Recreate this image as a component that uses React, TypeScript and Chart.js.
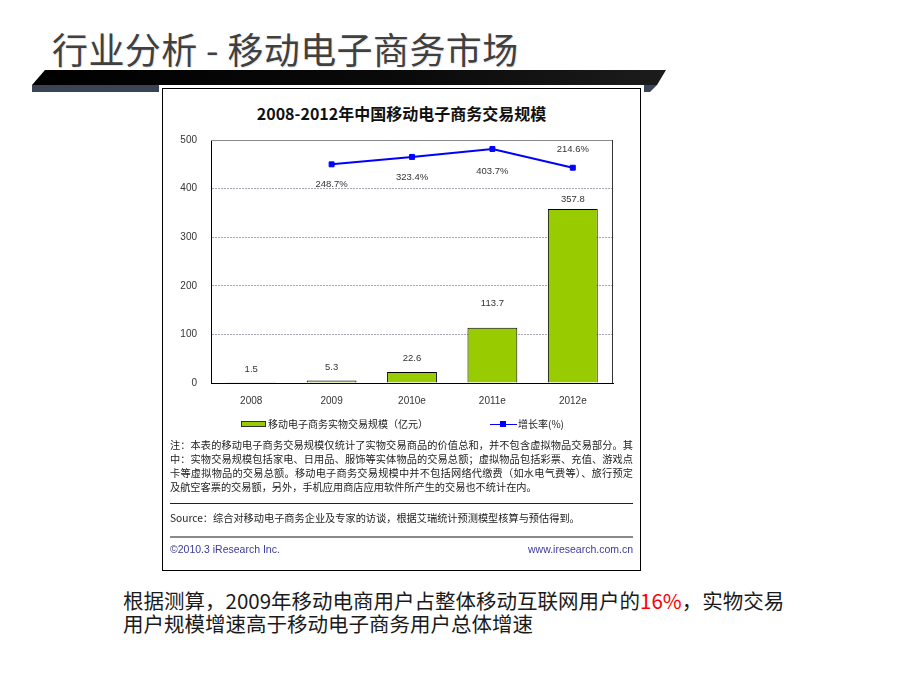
import React, { useEffect, useRef } from "react";
import { Chart, registerables } from "chart.js";
Chart.register(...registerables);

const categories = ["2008", "2009", "2010e", "2011e", "2012e"];
const tradeVolume = [1.5, 5.3, 22.6, 113.7, 357.8];
const growthRate: (number | null)[] = [null, 248.7, 323.4, 403.7, 214.6];
const yMin = 0;
const yMax = 500;
const yStep = 100;
const rateAxisMin = -1956;
const rateAxisMax = 494;
const barLabelOffsets = [13, 13, 14, 24, 10];
const lineLabelOffsets = [0, 20, 20, 22, -18];

const noteLines = [
  "注：本表的移动电子商务交易规模仅统计了实物交易商品的价值总和，并不包含虚拟物品交易部分。其",
  "中：实物交易规模包括家电、日用品、服饰等实体物品的交易总额；虚拟物品包括彩票、充值、游戏点",
  "卡等虚拟物品的交易总额。移动电子商务交易规模中并不包括网络代缴费（如水电气费等）、旅行预定",
  "及航空客票的交易额，另外，手机应用商店应用软件所产生的交易也不统计在内。",
];

const CHART_FONT = "'Liberation Sans', 'DejaVu Sans', sans-serif";
const CJK = "'Noto Sans CJK SC', 'Noto Sans', sans-serif";

const labelPlugin = {
  id: "valueLabels",
  afterDatasetsDraw(chart: any) {
    const ctx = chart.ctx;
    ctx.save();
    const a = chart.chartArea;
    ctx.lineWidth = 1;
    ctx.strokeStyle = "#8a8a8a";
    ctx.beginPath();
    ctx.moveTo(a.left, a.top + 0.5);
    ctx.lineTo(a.right, a.top + 0.5);
    ctx.stroke();
    ctx.strokeStyle = "#333";
    ctx.beginPath();
    ctx.moveTo(a.right - 0.5, a.top);
    ctx.lineTo(a.right - 0.5, a.bottom);
    ctx.stroke();

    ctx.font = "9.5px " + CHART_FONT;
    ctx.fillStyle = "#333";
    ctx.textAlign = "center";
    ctx.textBaseline = "middle";
    const barMeta = chart.getDatasetMeta(0);
    barMeta.data.forEach((el: any, i: number) => {
      ctx.fillText(String(tradeVolume[i]), el.x, el.y - barLabelOffsets[i]);
    });
    const lineMeta = chart.getDatasetMeta(1);
    lineMeta.data.forEach((el: any, i: number) => {
      const v = growthRate[i];
      if (v == null) return;
      ctx.fillText(v.toFixed(1) + "%", el.x, el.y + lineLabelOffsets[i]);
    });
    ctx.restore();
  },
};

function ChartCanvas() {
  const ref = useRef<HTMLCanvasElement | null>(null);
  useEffect(() => {
    if (!ref.current) return;
    const chart = new Chart(ref.current, {
      type: "bar",
      data: {
        labels: categories,
        datasets: [
          {
            type: "bar",
            label: "移动电子商务实物交易规模（亿元）",
            data: tradeVolume,
            backgroundColor: "#99cc00",
            borderColor: "#000",
            borderWidth: 1,
            barPercentage: 0.62,
            categoryPercentage: 1,
            yAxisID: "y",
            order: 2,
          } as any,
          {
            type: "line",
            label: "增长率(%)",
            data: growthRate,
            borderColor: "#0000ff",
            backgroundColor: "#0000ff",
            borderWidth: 2,
            pointStyle: "rect",
            pointRadius: 3.5,
            pointBorderWidth: 1,
            yAxisID: "y1",
            order: 1,
          } as any,
        ],
      },
      options: {
        animation: false,
        responsive: false,
        devicePixelRatio: 1,
        layout: { padding: { left: 0, right: 27, top: 10, bottom: 0 } },
        plugins: { legend: { display: false }, tooltip: { enabled: false }, title: { display: false } },
        scales: {
          x: {
            grid: { display: false, drawTicks: false },
            border: { display: true, color: "#000", width: 1 },
            ticks: { color: "#333", font: { family: CHART_FONT, size: 10 }, padding: 12 },
            afterFit(scale: any) {
              scale.height = 37;
              scale.paddingLeft = 0;
              scale.paddingRight = 0;
            },
          },
          y: {
            min: yMin,
            max: yMax,
            ticks: { stepSize: yStep, color: "#333", font: { family: CHART_FONT, size: 10 }, padding: 14 },
            grid: {
              drawTicks: false,
              color: (c: any) => (c.tick && (c.tick.value === yMin || c.tick.value === yMax) ? "rgba(0,0,0,0)" : "#a8a4b8"),
              lineWidth: 1,
            },
            border: { display: true, color: "#000", width: 1, dash: [2, 1] },
            afterFit(scale: any) {
              scale.width = 49;
              scale.paddingTop = 0;
              scale.paddingBottom = 0;
            },
          },
          y1: {
            type: "linear",
            display: false,
            min: rateAxisMin,
            max: rateAxisMax,
          },
        },
      } as any,
      plugins: [labelPlugin],
    });
    return () => chart.destroy();
  }, []);
  return <canvas ref={ref} width={478} height={290} style={{ display: "block", width: 478, height: 290 }} />;
}

export default function App() {
  const abs = (s: React.CSSProperties): React.CSSProperties => ({ position: "absolute", ...s });
  return (
    <div style={{ position: "fixed", left: 0, top: 0, width: 920, height: 690, background: "#fff", overflow: "hidden" }}>
      <div
        style={abs({
          left: 52,
          top: 30,
          height: 36,
          lineHeight: "36px",
          fontSize: 36,
          fontFamily: CJK,
          color: "#404040",
          whiteSpace: "nowrap",
          letterSpacing: 0.4,
          textShadow: "1px 1px 1px rgba(0,0,0,0.1)",
        })}
      >
        行业分析 - 移动电子商务市场
      </div>
      <svg width={920} height={100} style={abs({ left: 0, top: 0 })}>
        <defs>
          <linearGradient id="barg" x1="0" x2="1" y1="0" y2="0">
            <stop offset="0" stopColor="#000" />
            <stop offset="0.6" stopColor="#0a0a0a" />
            <stop offset="1" stopColor="#1c1c1c" />
          </linearGradient>
        </defs>
        <polygon points="45,70 666,70 657,85 32,85" fill="url(#barg)" />
        <polygon points="32,85 657,85 650,92 32,92" fill="#3b4455" />
      </svg>
      <div
        style={abs({
          left: 162,
          top: 88,
          width: 477,
          height: 481,
          border: "1px solid #000",
          background: "#fff",
          boxShadow: "0 0 0 3px #fff",
        })}
      />
      <div
        style={abs({
          left: 162,
          top: 103,
          width: 479,
          textAlign: "center",
          fontFamily: CJK,
          fontWeight: 700,
          fontSize: 16,
          lineHeight: "20px",
          color: "#111",
          whiteSpace: "nowrap",
        })}
      >
        2008-2012年中国移动电子商务交易规模
      </div>
      <div style={abs({ left: 162, top: 130 })}>
        <ChartCanvas />
      </div>
      {/* legend */}
      <div style={abs({ left: 241, top: 421, width: 23, height: 4, background: "#99cc00", border: "1px solid #333" })} />
      <div style={abs({ left: 268, top: 417, fontFamily: CJK, fontSize: 10, lineHeight: "14px", color: "#222", whiteSpace: "nowrap" })}>
        移动电子商务实物交易规模（亿元）
      </div>
      <div style={abs({ left: 490, top: 423.5, width: 27, height: 1, background: "#0000ff" })} />
      <div style={abs({ left: 500, top: 421, width: 6, height: 6, background: "#0000ff" })} />
      <div style={abs({ left: 518, top: 417, fontFamily: CJK, fontSize: 10, lineHeight: "14px", color: "#222", whiteSpace: "nowrap" })}>
        增长率(%)
      </div>
      {/* notes */}
      {noteLines.map((t, i) => (
        <div
          key={i}
          style={abs({
            left: 170,
            top: 438 + i * 14,
            width: 463,
            fontFamily: CJK,
            fontSize: 10.2,
            lineHeight: "14px",
            color: "#222",
            whiteSpace: "nowrap",
            textAlign: i < noteLines.length - 1 ? "justify" : "left",
            textAlignLast: i < noteLines.length - 1 ? "justify" : "left",
          } as React.CSSProperties)}
        >
          {t}
        </div>
      ))}
      <div style={abs({ left: 170, top: 503, width: 463, height: 1, background: "#222" })} />
      <div style={abs({ left: 170, top: 511, fontFamily: CJK, fontSize: 10.2, lineHeight: "14px", color: "#222", whiteSpace: "nowrap" })}>
        Source：综合对移动电子商务企业及专家的访谈，根据艾瑞统计预测模型核算与预估得到。
      </div>
      <div style={abs({ left: 170, top: 536, width: 463, height: 2, background: "#8a8a8a" })} />
      <div style={abs({ left: 170, top: 542, fontFamily: CHART_FONT, fontSize: 10.5, lineHeight: "14px", color: "#3a3a9a", whiteSpace: "nowrap" })}>
        ©2010.3 iResearch Inc.
      </div>
      <div style={abs({ left: 433, top: 542, width: 200, textAlign: "right", fontFamily: CHART_FONT, fontSize: 10.5, lineHeight: "14px", color: "#3a3a9a", whiteSpace: "nowrap" })}>
        www.iresearch.com.cn
      </div>
      {/* bottom text */}
      <div style={abs({ left: 123, top: 588.5, fontFamily: CJK, fontSize: 20.5, lineHeight: "23px", color: "#1a1a1a", whiteSpace: "nowrap" })}>
        根据测算，2009年移动电商用户占整体移动互联网用户的<span style={{ color: "#ff0000" }}>16%</span>，实物交易
        <br />
        用户规模增速高于移动电子商务用户总体增速
      </div>
    </div>
  );
}
